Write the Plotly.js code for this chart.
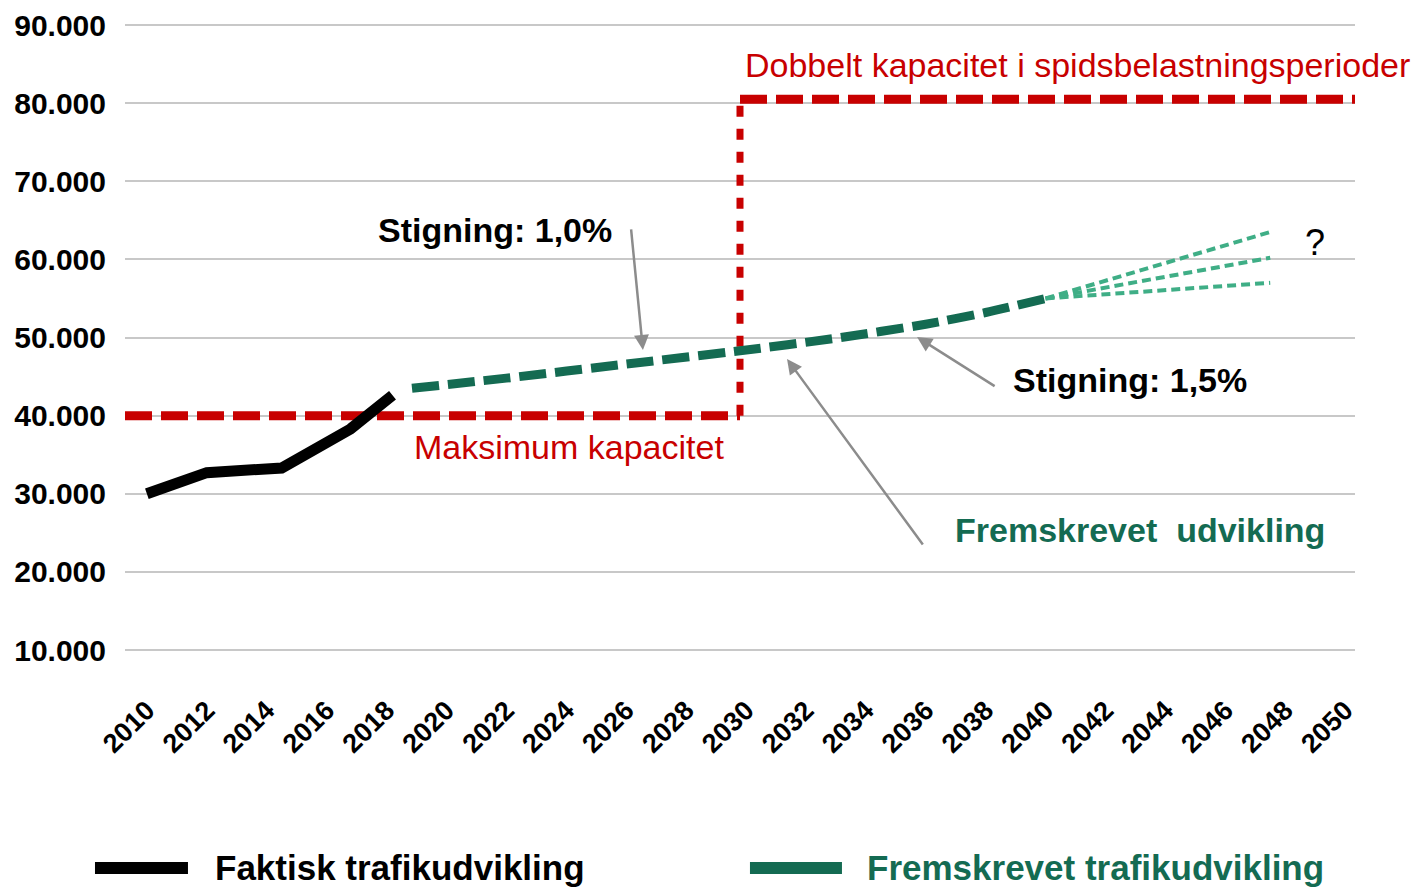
<!DOCTYPE html>
<html>
<head>
<meta charset="utf-8">
<script src="https://cdn.plot.ly/plotly-3.0.1.min.js"></script>
<style>html,body{margin:0;padding:0;background:#fff;}#chart{width:1422px;height:891px;}</style>
</head>
<body>
<div id="chart"></div>
<script>
// ---- data ----
const tickYears = [2010,2012,2014,2016,2018,2020,2022,2024,2026,2028,2030,2032,2034,2036,2038,2040,2042,2044,2046,2048,2050];
const tickLabels = tickYears.map(String);

const actualYears   = [2010, 2012, 2014.5, 2016.8, 2018.2];
const actualTraffic = [30000, 32700, 33300, 38300, 42600];

const projYears   = [2018.85, 2022, 2026, 2029.8, 2033, 2036, 2038, 2040];
const projTraffic = [43500, 44800, 46600, 48300, 49900, 51700, 53200, 55000];

const fanYears  = [2040, 2047.5];
const fanHigh   = [55000, 63500];
const fanMid    = [55000, 60200];
const fanLow    = [55000, 57000];

const capYearsLow  = [2009.27, 2029.8];
const capLow       = [40000, 40000];
const capStepYears = [2029.8, 2029.8];
const capStep      = [40000, 80500];
const capYearsHigh = [2029.8, 2050.33];
const capHigh      = [80500, 80500];

// ---- styling ----
const FONT = "'Liberation Sans', Arial, sans-serif";
const RED = '#C80000';
const GREEN = '#146B52';
const FAN = '#3FAE86';
const ARROW = '#8C8C8C';

const traces = [
  {x: capYearsLow, y: capLow, mode: 'lines', line: {color: RED, width: 9, dash: '27px,9px'}, showlegend: false, hoverinfo: 'skip'},
  {x: capYearsHigh, y: capHigh, mode: 'lines', line: {color: RED, width: 9, dash: '27px,9px'}, showlegend: false, hoverinfo: 'skip'},
  {x: capStepYears, y: capStep, mode: 'lines', line: {color: RED, width: 7, dash: '11px,12px'}, showlegend: false, hoverinfo: 'skip'},
  {x: fanYears, y: fanHigh, mode: 'lines', line: {color: FAN, width: 4, dash: '9px,5px'}, showlegend: false},
  {x: fanYears, y: fanMid, mode: 'lines', line: {color: FAN, width: 4, dash: '9px,5px'}, showlegend: false},
  {x: fanYears, y: fanLow, mode: 'lines', line: {color: FAN, width: 4, dash: '9px,5px'}, showlegend: false},
  {x: projYears, y: projTraffic, mode: 'lines', name: 'Fremskrevet trafikudvikling', line: {color: GREEN, width: 9, dash: '27px,9px', shape: 'spline', smoothing: 0.6}, showlegend: false},
  {x: actualYears, y: actualTraffic, mode: 'lines', name: 'Faktisk trafikudvikling', line: {color: '#000000', width: 11}, showlegend: false}
];

function arrow(tipX, tipY, tailX, tailY) {
  return {x: tipX, y: tipY, ax: tailX, ay: tailY, xref: 'x', yref: 'y', axref: 'x', ayref: 'y',
          text: '', showarrow: true, arrowhead: 2, arrowsize: 1.2, arrowwidth: 2.5, arrowcolor: ARROW};
}
function label(x, y, text, color, size, bold) {
  return {x: x, y: y, xref: 'x', yref: 'y', text: bold ? '<b>' + text + '</b>' : text,
          showarrow: false, xanchor: 'center', yanchor: 'middle',
          font: {family: FONT, size: size, color: color}};
}

const annotations = [
  label(2041.05, 84880, 'Dobbelt kapacitet i spidsbelastningsperioder', RED, 34, false),
  label(2021.62, 63760, 'Stigning: 1,0%', '#000000', 34, true),
  label(2042.82, 44560, 'Stigning: 1,5%', '#000000', 34, true),
  label(2043.16, 25360, 'Fremskrevet  udvikling', GREEN, 34, true),
  label(2024.09, 35980, 'Maksimum kapacitet', RED, 34, false),
  {x: 2049.0, y: 62100, xref: 'x', yref: 'y', text: '?', showarrow: false, font: {family: FONT, size: 36, color: '#000'}},
  arrow(2026.56, 48400, 2026.16, 64020),
  arrow(2035.71, 50060, 2038.35, 43660),
  arrow(2031.37, 47250, 2035.94, 23310),
  // legend texts
  {x: 0.0715, y: -0.2848, xref: 'paper', yref: 'paper', xanchor: 'left', yanchor: 'middle', showarrow: false,
   text: '<b>Faktisk trafikudvikling</b>', font: {family: FONT, size: 35, color: '#000000'}},
  {x: 0.6016, y: -0.2848, xref: 'paper', yref: 'paper', xanchor: 'left', yanchor: 'middle', showarrow: false,
   text: '<b>Fremskrevet trafikudvikling</b>', font: {family: FONT, size: 35, color: GREEN}}
];

const shapes = [
  {type: 'line', xref: 'paper', yref: 'paper', x0: -0.0244, x1: 0.0512, y0: -0.2848, y1: -0.2848, line: {color: '#000000', width: 12}},
  {type: 'line', xref: 'paper', yref: 'paper', x0: 0.5081, x1: 0.5829, y0: -0.2848, y1: -0.2848, line: {color: GREEN, width: 12}}
];

const layout = {
  width: 1422, height: 891,
  margin: {l: 125, r: 67, t: 20, b: 211, pad: 0},
  paper_bgcolor: '#ffffff', plot_bgcolor: '#ffffff',
  separators: ',.',
  showlegend: false,
  xaxis: {
    range: [2009.27, 2050.33], tickmode: 'array', tickvals: tickYears, ticktext: tickLabels,
    tickangle: -45, showgrid: false, zeroline: false, showline: false, ticks: '',
    tickfont: {family: FONT, size: 27, color: '#000000', weight: 'bold'},
    ticklabelstandoff: 8
  },
  yaxis: {
    range: [6160, 90640], tick0: 0, dtick: 10000, tickformat: ',d',
    showgrid: true, gridcolor: '#C8C8C8', gridwidth: 2, zeroline: false, showline: false, ticks: '',
    tickfont: {family: FONT, size: 30, color: '#000000', weight: 'bold'},
    ticklabelstandoff: 18
  },
  annotations: annotations,
  shapes: shapes
};

Plotly.newPlot('chart', traces, layout, {displayModeBar: false, staticPlot: true});
</script>
</body>
</html>
